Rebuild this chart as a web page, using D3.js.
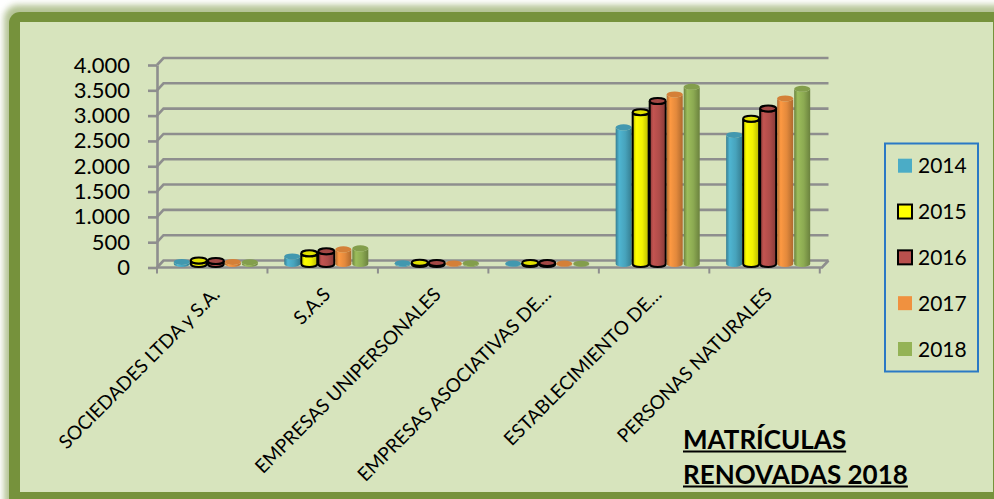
<!DOCTYPE html>
<html><head><meta charset="utf-8">
<script src="https://cdn.jsdelivr.net/npm/d3@7"></script>
<style>body{margin:0;background:#fff;} svg{display:block;font-family:Lato,"Open Sans",sans-serif;}</style>
</head><body><svg id="c" width="994" height="499"></svg>
<script>
const categories = ["SOCIEDADES LTDA y S.A.", "S.A.S", "EMPRESAS UNIPERSONALES", "EMPRESAS ASOCIATIVAS DE…", "ESTABLECIMIENTO DE…", "PERSONAS NATURALES"];
const years = ["2014", "2015", "2016", "2017", "2018"];
const v2014 = [40, 150, 15, 8, 2700, 2550];
const v2015 = [70, 210, 25, 20, 3000, 2870];
const v2016 = [60, 250, 20, 18, 3220, 3070];
const v2017 = [40, 290, 12, 8, 3350, 3270];
const v2018 = [35, 310, 15, 6, 3500, 3460];
const yTicks = [0, 500, 1000, 1500, 2000, 2500, 3000, 3500, 4000];
const titleLines = ["MATRÍCULAS", "RENOVADAS 2018"];

const seriesValues = [v2014, v2015, v2016, v2017, v2018];
const colors = ["#4BACC6", "#FFFF00", "#B9504D", "#F0913F", "#94B356"];
const outlined = [false, true, true, false, false];

const svg = d3.select("#c");
const defs = svg.append("defs");
const fmt = d3.formatLocale({decimal: ",", thousands: ".", grouping: [3], currency: ["$", ""]}).format(",");

// frame
const bl = defs.append("filter").attr("id", "blur").attr("x", "-5%").attr("y", "-5%").attr("width", "110%").attr("height", "110%");
bl.append("feGaussianBlur").attr("stdDeviation", 3);
svg.append("rect").attr("x", 4).attr("y", 5).attr("width", 1010).attr("height", 510).attr("rx", 14)
  .attr("fill", "#77933C").attr("opacity", 0.55).attr("filter", "url(#blur)");
svg.append("rect").attr("x", 9).attr("y", 12).attr("width", 1000).attr("height", 500).attr("rx", 11).attr("fill", "#76923C");
svg.append("rect").attr("x", 20).attr("y", 22).attr("width", 973).attr("height", 470).attr("fill", "#D7E4BD");

// scales
const x0 = 157, x1 = 822, ddx = 6.5, ddy = -7;
const y = d3.scaleLinear().domain([0, 4000]).range([267.5, 65]);
const x = d3.scaleBand().domain(categories).range([x0, x1]).paddingInner(0.23).paddingOuter(0.125);
const xs = d3.scaleBand().domain(years).range([0, x.bandwidth()]);
const step = x.step();

const gridColor = "#8E8E8E";
// back gridlines with left diagonals
svg.append("g").selectAll("path").data(yTicks).join("path")
  .attr("d", t => `M${x0},${y(t)}L${x0 + ddx},${y(t) + ddy}L${x1 + ddx},${y(t) + ddy}`)
  .attr("fill", "none").attr("stroke", gridColor).attr("stroke-width", 2.6);
// floor front line
svg.append("path").attr("d", `M${x0},${y(0)}L${x1},${y(0)}L${x1 + ddx},${y(0) + ddy}`)
  .attr("fill", "none").attr("stroke", gridColor).attr("stroke-width", 2.6);
// category ticks at boundaries
svg.append("g").selectAll("line").data(d3.range(categories.length + 1)).join("line")
  .attr("x1", i => x0 + i * step).attr("x2", i => x0 + i * step)
  .attr("y1", y(0)).attr("y2", y(0) + 6).attr("stroke", gridColor).attr("stroke-width", 2);

// y axis
const ya = svg.append("g").attr("transform", `translate(${x0},0)`)
  .call(d3.axisLeft(y).tickValues(yTicks).tickFormat(fmt).tickSize(9).tickSizeOuter(0).tickPadding(18));
ya.select(".domain").attr("stroke", gridColor).attr("stroke-width", 2.6);
ya.selectAll(".tick line").attr("stroke", gridColor).attr("stroke-width", 2.6);
ya.selectAll(".tick text").attr("font-size", 22).attr("fill", "#000").attr("font-family", "Lato");

// gradients
colors.forEach((c, i) => {
  const g = defs.append("linearGradient").attr("id", "g" + i).attr("x1", 0).attr("x2", 1).attr("y1", 0).attr("y2", 0);
  const base = d3.color(c);
  g.append("stop").attr("offset", "0%").attr("stop-color", base.darker(0.9));
  g.append("stop").attr("offset", "22%").attr("stop-color", base.brighter(0.15));
  g.append("stop").attr("offset", "60%").attr("stop-color", base.darker(0.15));
  g.append("stop").attr("offset", "100%").attr("stop-color", base.darker(0.9));
});

// bars (cylinders)
const shiftX = 2.5, baseY = y(0) + ddy / 2, ry = 3;
const bars = [];
seriesValues.forEach((vals, si) => vals.forEach((v, ci) => bars.push({si, ci, v})));
const bg = svg.append("g");
const barG = bg.selectAll("g").data(bars).join("g");
barG.each(function(d) {
  const g = d3.select(this);
  const left = x(categories[d.ci]) + xs(years[d.si]) + shiftX + 0.5;
  const w = xs.bandwidth() - 1;
  const rx = w / 2;
  const top = baseY - (y(0) - y(d.v));
  const right = left + w;
  const stroke = outlined[d.si] ? "#000" : "none";
  g.append("path")
    .attr("d", `M${left},${top}L${left},${baseY}A${rx},${ry} 0 0 0 ${right},${baseY}L${right},${top}A${rx},${ry} 0 0 1 ${left},${top}Z`)
    .attr("fill", `url(#g${d.si})`).attr("stroke", stroke).attr("stroke-width", 2);
  g.append("ellipse").attr("cx", left + rx).attr("cy", top).attr("rx", rx).attr("ry", ry)
    .attr("fill", d3.color(colors[d.si]).darker(0.35)).attr("stroke", stroke).attr("stroke-width", 2);
});

// category labels
svg.append("g").selectAll("text").data(categories).join("text")
  .attr("transform", d => `translate(${x(d) + x.bandwidth() / 2 - 2},286) rotate(-45)`)
  .attr("text-anchor", "end").attr("dy", "0.72em")
  .attr("font-size", 19).attr("fill", "#000").text(d => d);

// legend
const lg = svg.append("g");
lg.append("rect").attr("x", 885).attr("y", 143.5).attr("width", 93).attr("height", 228)
  .attr("fill", "none").attr("stroke", "#2A79C5").attr("stroke-width", 2);
const ly = d3.scalePoint().domain(years).range([165.7, 349]);
const li = lg.selectAll("g").data(years).join("g").attr("transform", d => `translate(898,${ly(d)})`);
li.append("rect").attr("x", 0).attr("y", -7).attr("width", 14).attr("height", 14)
  .attr("fill", (d, i) => colors[i]).attr("stroke", (d, i) => outlined[i] ? "#000" : "none").attr("stroke-width", 2);
li.append("text").attr("x", 20).attr("dy", "0.36em").attr("font-size", 21).attr("fill", "#000").text(d => d);

// title
const tg = svg.append("g");
titleLines.forEach((t, i) => {
  const by = 449 + i * 35;
  const tx = tg.append("text").attr("x", 683).attr("y", by).attr("font-size", 26).attr("font-weight", "bold")
    .attr("fill", "#000").text(t);
  const w = tx.node().getComputedTextLength();
  tg.append("line").attr("x1", 683).attr("x2", 683 + w).attr("y1", by + 2.5).attr("y2", by + 2.5)
    .attr("stroke", "#000").attr("stroke-width", 2);
});
</script></body></html>
